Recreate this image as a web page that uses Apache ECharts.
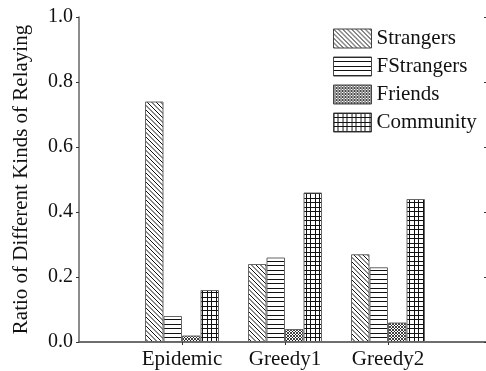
<!DOCTYPE html>
<html>
<head>
<meta charset="utf-8">
<script src="https://cdn.jsdelivr.net/npm/echarts@6/dist/echarts.min.js"></script>
<style>
html,body{margin:0;padding:0;background:#fff;}
#chart{width:486px;height:371px;}
</style>
</head>
<body>
<div id="chart"></div>
<script>
// ---- data ----
var categories = ['Epidemic', 'Greedy1', 'Greedy2'];
var seriesNames = ['Strangers', 'FStrangers', 'Friends', 'Community'];
var strangers  = [0.74, 0.24, 0.27];
var fstrangers = [0.08, 0.26, 0.23];
var friends    = [0.02, 0.04, 0.06];
var community  = [0.16, 0.46, 0.44];
var yTicks = [0.0, 0.2, 0.4, 0.6, 0.8, 1.0];

// ---- patterns ----
function tile(w, h, draw) {
  var c = document.createElement('canvas');
  c.width = w; c.height = h;
  var g = c.getContext('2d');
  g.fillStyle = '#fff'; g.fillRect(0, 0, w, h);
  g.strokeStyle = '#111'; g.fillStyle = '#111'; g.lineWidth = 1;
  draw(g, w, h);
  return { image: c, repeat: 'repeat' };
}
var patDiag = tile(9, 9, function (g, w, h) {
  g.beginPath();
  for (var o = -18; o <= 18; o += 4.5) { g.moveTo(o, 0); g.lineTo(o + 9, 9); }
  g.stroke();
});
var patHoriz = tile(9, 9, function (g) {
  g.fillRect(0, 0, 9, 1);
  g.fillRect(0, 4, 9, 1);
});
var patCross = tile(6, 6, function (g) {
  g.lineWidth = 0.8;
  g.beginPath();
  for (var o = -12; o <= 12; o += 3) { g.moveTo(o, 0); g.lineTo(o + 6, 6); g.moveTo(o + 6, 0); g.lineTo(o, 6); }
  g.stroke();
});
var patGrid = tile(9, 9, function (g) {
  g.fillRect(0, 0, 9, 1);
  g.fillRect(0, 4, 9, 1);
  g.fillRect(0, 0, 1, 9);
  g.fillRect(4, 0, 1, 9);
});
var patterns = [patDiag, patHoriz, patCross, patGrid];
var values = [strangers, fstrangers, friends, community];

var axisCats = [''].concat(categories, ['']);
function pad(arr) { return ['-'].concat(arr, ['-']); }

var font = "'Liberation Serif', 'Times New Roman', serif";
var axisLineStyle = { color: '#666', width: 1.5 };

var series = seriesNames.map(function (n, i) {
  return {
    name: n,
    type: 'bar',
    xAxisIndex: 0,
    yAxisIndex: 0,
    data: pad(values[i]),
    barWidth: 18.5,
    barGap: '0%',
    itemStyle: { color: patterns[i], borderColor: '#666', borderWidth: 1 },
    emphasis: { disabled: true },
    animation: false
  };
});

var chart = echarts.init(document.getElementById('chart'), null, { renderer: 'canvas' });
chart.setOption({
  animation: false,
  backgroundColor: '#fff',
  grid: { left: 79, top: 17, width: 412, height: 325, containLabel: false, outerBoundsMode: 'none' },
  legend: {
    orient: 'vertical',
    left: 333,
    top: 28,
    icon: 'rect',
    itemWidth: 38,
    itemHeight: 19,
    itemGap: 7,
    padding: 0,
    data: seriesNames,
    selectedMode: false,
    itemStyle: { borderColor: '#444', borderWidth: 1 },
    textStyle: { fontFamily: font, fontSize: 21, color: '#111' }
  },
  xAxis: [{
    type: 'category',
    data: axisCats,
    boundaryGap: false,
    position: 'bottom',
    axisLine: { lineStyle: axisLineStyle },
    axisTick: { show: false },
    axisLabel: { interval: 0, fontFamily: font, fontSize: 21, color: '#111', margin: 7 },
    splitLine: { show: false }
  }, {
    type: 'category',
    data: axisCats,
    boundaryGap: false,
    position: 'top',
    axisLine: { show: true, lineStyle: axisLineStyle },
    axisTick: { show: true, inside: true, length: 3, interval: function (i) { return i > 0 && i < axisCats.length - 1; }, lineStyle: { color: '#333' } },
    axisLabel: { show: false },
    splitLine: { show: false }
  }],
  yAxis: [{
    type: 'value',
    min: yTicks[0],
    max: yTicks[yTicks.length - 1],
    interval: 0.2,
    position: 'left',
    name: 'Ratio of Different Kinds of Relaying',
    nameLocation: 'middle',
    nameGap: 47,
    nameTextStyle: { fontFamily: font, fontSize: 21, color: '#111' },
    axisLine: { show: true, lineStyle: axisLineStyle },
    axisTick: { show: true, inside: false, length: 3, lineStyle: { color: '#333' } },
    axisLabel: { fontFamily: font, fontSize: 20, color: '#111', margin: 6, formatter: function (v) { return v.toFixed(1); } },
    splitLine: { show: false }
  }, {
    type: 'value',
    min: yTicks[0],
    max: yTicks[yTicks.length - 1],
    interval: 0.2,
    position: 'right',
    axisLine: { show: true, lineStyle: axisLineStyle },
    axisTick: { show: true, inside: true, length: 7, lineStyle: { color: '#333' } },
    axisLabel: { show: false },
    splitLine: { show: false }
  }],
  series: series
});
</script>
</body>
</html>
